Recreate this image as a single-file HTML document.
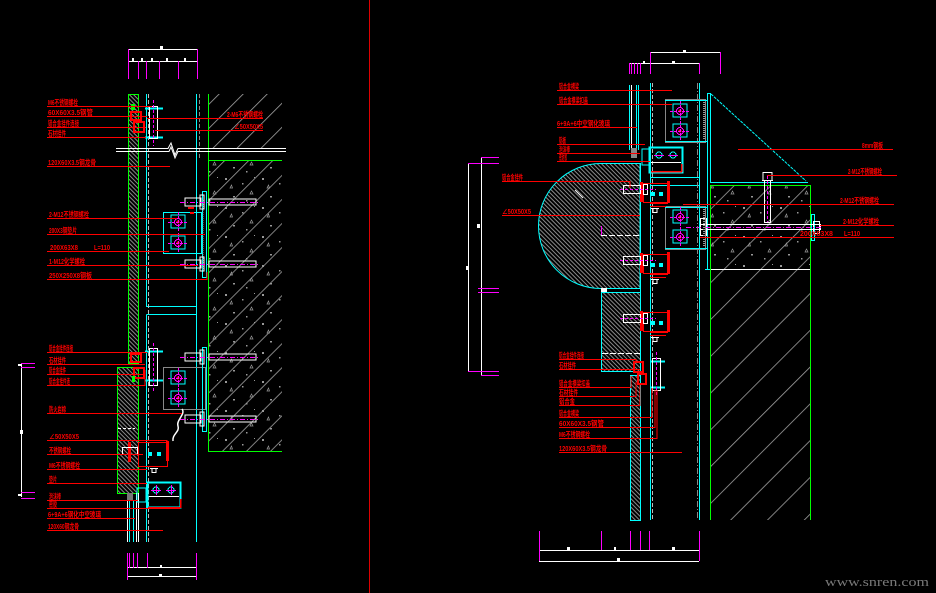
<!DOCTYPE html>
<html><head><meta charset="utf-8"><style>
html,body{margin:0;padding:0;background:#000;}
svg{display:block;}
text{font-family:"Liberation Sans","Noto Sans CJK SC",sans-serif;font-size:7.5px;font-weight:bold;fill:#f00;}
</style></head><body>
<svg width="936" height="593" viewBox="0 0 936 593" xmlns="http://www.w3.org/2000/svg">
<defs>
<pattern id="dh" width="3" height="3" patternUnits="userSpaceOnUse" patternTransform="rotate(-45)"><rect x="0" y="0" width="1" height="3" fill="#8a8a8a"/></pattern>
<pattern id="wh" width="26" height="26" patternUnits="userSpaceOnUse" patternTransform="rotate(45)"><rect width="0.8" height="26" fill="#a0a0a0"/></pattern>
<pattern id="wh2" width="17" height="17" patternUnits="userSpaceOnUse" patternTransform="rotate(45)"><rect width="0.8" height="17" fill="#a0a0a0"/></pattern>
<pattern id="dots" width="37" height="29" patternUnits="userSpaceOnUse">
<rect x="3" y="4" width="2" height="2" fill="#999"/>
<rect x="20" y="9" width="1.5" height="1.5" fill="#999"/>
<path d="M28 20h3l-1.5-3z" fill="none" stroke="#999" stroke-width="0.7"/>
<rect x="11" y="22" width="2" height="1.5" fill="#999"/>
<rect x="32" y="3" width="1" height="1" fill="#999"/>
<path d="M8 14h2.5l-1-3z" fill="none" stroke="#999" stroke-width="0.7"/>
<rect x="24" y="26" width="1.5" height="1.5" fill="#999"/>
</pattern>
<g id="rb">
<rect x="640" y="182" width="3" height="20" fill="#f00"/>
<rect x="643.5" y="183.5" width="24" height="19" fill="none" stroke="#f00"/>
<rect x="667" y="181" width="3" height="22" fill="#f00"/>
<path d="M650 203.5H668 M650 206.5H666" stroke="#f00"/>
<rect x="651" y="192" width="4" height="4" fill="#0ff"/><rect x="659" y="192" width="4" height="4" fill="#0ff"/>
<rect x="623.5" y="185.5" width="17" height="8" fill="none" stroke="#fff"/>
<rect x="643.5" y="184.5" width="4" height="10" fill="none" stroke="#fff"/>
<line x1="620" y1="189.5" x2="656" y2="189.5" stroke="#f0f" stroke-dasharray="3 2"/>
<path d="M651 208.5h8 M653 208.5v4h4v-4" stroke="#fff" fill="none"/>
</g>
<g id="sq">
<rect x="-7" y="-7" width="14" height="13" fill="none" stroke="#0ff"/>
<circle cx="0" cy="0" r="3.5" fill="none" stroke="#f0f"/>
<circle cx="0" cy="0" r="1.5" fill="#f00"/>
<path d="M-10 0.5H10 M0.5 -10V10" stroke="#f0f" stroke-dasharray="3 1"/>
</g>
<g id="bolt">
<rect x="-20" y="-4" width="16" height="8" fill="none" stroke="#fff"/>
<rect x="-5" y="-7" width="4" height="14" fill="none" stroke="#fff"/>
<rect x="4" y="-3" width="47" height="6" fill="none" stroke="#fff"/>
<line x1="-25" y1="0.5" x2="55" y2="0.5" stroke="#f0f" stroke-dasharray="5 2 1 2"/>
</g>
</defs>

<rect width="936" height="593" fill="#000"/>

<!-- separator -->
<line x1="369.5" y1="0" x2="369.5" y2="593" stroke="#d00"/>

<!-- ================= LEFT DRAWING ================= -->
<g shape-rendering="crispEdges">
<!-- top dimension -->
<path d="M128 49.5H197 M128 61.5H197" stroke="#fff"/>
<path d="M128.5 49V79 M197.5 49V79 M138.5 61V79 M146.5 61V79 M159.5 61V79 M178.5 61V79" stroke="#f0f"/>
<rect x="160" y="46" width="3" height="3" fill="#fff"/>
<rect x="132" y="58" width="2" height="3" fill="#fff"/><rect x="141" y="58" width="2" height="3" fill="#fff"/><rect x="151" y="58" width="2" height="3" fill="#fff"/><rect x="166" y="58" width="2" height="3" fill="#fff"/><rect x="184" y="58" width="2" height="3" fill="#fff"/>

<!-- earth hatch top -->
<rect x="209" y="94" width="73" height="54" fill="url(#wh2)"/>
<!-- concrete -->
<rect x="209" y="160" width="73" height="291" fill="url(#wh2)"/>
<rect x="209" y="160" width="73" height="291" fill="url(#dots)"/>
<path d="M208 160.5H282 M208 451.5H282" stroke="#0f0"/>
<line x1="208.5" y1="94" x2="208.5" y2="452" stroke="#0f0"/>

<!-- stone panels -->
<rect x="128.5" y="94.5" width="10" height="269" fill="url(#dh)" stroke="#0f0"/>
<rect x="117.5" y="367.5" width="21" height="126" fill="url(#dh)" stroke="#0f0"/>
<path d="M118 428.5H135" stroke="#fff" stroke-dasharray="3 2"/>

<!-- glass lines below -->
<path d="M127.5 493V542 M136.5 493V542 M138.5 493V542" stroke="#fff"/>
<path d="M129.5 493V542 M133.5 500V542" stroke="#0ff"/>
<rect x="127" y="493" width="6" height="8" fill="#777"/>

<!-- mullion -->
<path d="M146.5 94V306.5H196.5 M146.5 314.5H196.5 M146.5 314.5V542" stroke="#0ff" fill="none"/>
<line x1="196.5" y1="94" x2="196.5" y2="542" stroke="#0ff"/>
<line x1="148.5" y1="94" x2="148.5" y2="542" stroke="#bbb" stroke-dasharray="4 2"/>
<line x1="199.5" y1="94" x2="199.5" y2="160" stroke="#888" stroke-dasharray="4 2"/>

<!-- break line -->
<path d="M116 148.5H168L171 143L175 155L178 148.5H286 M116 151.5H169L171 147L175 158L178 151.5H286" stroke="#fff" fill="none" shape-rendering="auto"/>

<!-- upper small bracket -->
<path d="M145 108.5H163 M145 137.5H163" stroke="#0ff" stroke-width="2"/>
<rect x="149.5" y="106.5" width="8" height="32" fill="none" stroke="#fff"/>
<line x1="153.5" y1="100" x2="153.5" y2="146" stroke="#f0f" stroke-dasharray="3 2"/>
<path d="M131 112h10v8h-10z M134 122h10v10h-10z" fill="none" stroke="#f00" stroke-width="2"/>
<rect x="131" y="104" width="4" height="6" fill="#0f0"/>

<!-- upper bracket -->
<rect x="163.5" y="212.5" width="38" height="41" fill="none" stroke="#0ff"/>
<use href="#sq" x="178" y="222"/>
<use href="#sq" x="178" y="243"/>
<rect x="202.5" y="191.5" width="4" height="86" fill="none" stroke="#0ff"/>
<path d="M203 200v70" stroke="#888" stroke-dasharray="1 1"/>
<use href="#bolt" x="205" y="202"/>
<use href="#bolt" x="205" y="264"/>
<path d="M188 208h6 M190 213h4" stroke="#f00" stroke-width="2"/>

<!-- lower small bracket -->
<path d="M145 351.5H163 M145 380.5H163" stroke="#0ff" stroke-width="2"/>
<rect x="149.5" y="348.5" width="8" height="37" fill="none" stroke="#fff"/>
<line x1="153.5" y1="343" x2="153.5" y2="392" stroke="#f0f" stroke-dasharray="3 2"/>
<path d="M131 354h10v8h-10z M134 368h10v10h-10z" fill="none" stroke="#f00" stroke-width="2"/>
<rect x="132" y="376" width="3" height="6" fill="#0f0"/>

<!-- lower bracket -->
<rect x="163.5" y="367.5" width="42" height="42" fill="none" stroke="#888"/>
<use href="#sq" x="178" y="378"/>
<use href="#sq" x="178" y="398"/>
<rect x="202.5" y="347.5" width="4" height="84" fill="none" stroke="#0ff"/>
<use href="#bolt" x="205" y="357"/>
<use href="#bolt" x="205" y="419"/>
<path d="M182 409 C186 414 176 420 178 426 C180 432 172 434 173 441" stroke="#fff" fill="none" stroke-width="1.5" shape-rendering="auto"/>

<!-- red box lower -->
<rect x="138.5" y="442.5" width="29" height="24" fill="none" stroke="#f00"/>
<rect x="166" y="441" width="3" height="20" fill="#f00"/>
<rect x="128" y="442" width="3" height="20" fill="#f00"/>
<rect x="148" y="452" width="4" height="4" fill="#0ff"/><rect x="157" y="452" width="4" height="4" fill="#0ff"/>
<rect x="122.5" y="447.5" width="15" height="7" fill="none" stroke="#fff"/>
<path d="M150 468.5h8 M152 468.5v4h4v-4" stroke="#fff" fill="none"/>

<!-- lower cyan bracket -->
<rect x="147.5" y="482.5" width="33" height="25" fill="none" stroke="#0ff" stroke-width="2"/>
<path d="M149 496.5H179" stroke="#fff"/>
<circle cx="156" cy="490" r="3" fill="none" stroke="#0ff"/><circle cx="171" cy="490" r="3" fill="none" stroke="#0ff"/>
<path d="M151 490.5h10 M166 490.5h10 M156.5 485v10 M171.5 485v10" stroke="#f0f"/>
<path d="M148 507.5H180 M180.5 499v9" stroke="#f00" stroke-width="1.5"/>
<path d="M137 488h9v14h-9z" fill="none" stroke="#0ff"/>

<!-- bottom dimension -->
<path d="M127 567.5H196 M127 576.5H196" stroke="#fff"/>
<path d="M127.5 553V580 M196.5 553V580 M129.5 553V568 M133.5 553V568 M137.5 553V568 M147.5 553V568" stroke="#f0f"/>
<rect x="160" y="565" width="2" height="2" fill="#fff"/><rect x="159" y="574" width="3" height="3" fill="#fff"/>

<!-- left vertical dimension -->
<line x1="21.5" y1="363" x2="21.5" y2="497" stroke="#fff"/>
<path d="M21 363.5H35 M21 367.5H35 M21 492.5H35 M21 498.5H35" stroke="#f0f"/>
<rect x="20" y="430" width="3" height="4" fill="#fff"/><rect x="18" y="364" width="3" height="2" fill="#fff"/><rect x="18" y="494" width="3" height="2" fill="#fff"/>

<!-- left leaders -->
<g stroke="#f00" fill="none">
<path d="M47 106.5H152 M47 116.5H147 M47 127.5H146 M47 137.5H146 M47 166.5H170 M47 218.5H177 M47 234.5H205 M47 251.5H169 M47 265.5H198 M47 279.5H207V272"/>
<path d="M147 118.5H263 M155 130.5H263"/>
<path d="M47 352.5H147 M47 364.5H145 M47 374.5H143 M47 385.5H145V370 M47 413.5H182 M47 440.5H167V446 M47 454.5H143 M47 469.5H147 M47 483.5H147 M47 500.5H138 M47 508.5H180 M47 518.5H135 M47 530.5H163"/>
</g>
</g>
<g>
<text x="48" y="105" textLength="30" lengthAdjust="spacingAndGlyphs">M6不锈钢螺栓</text>
<text x="48" y="115" textLength="45" lengthAdjust="spacingAndGlyphs">60X60X3.5钢管</text>
<text x="48" y="126" textLength="31" lengthAdjust="spacingAndGlyphs">铝合金挂件连接</text>
<text x="48" y="136" textLength="18" lengthAdjust="spacingAndGlyphs">石材挂件</text>
<text x="48" y="165" textLength="48" lengthAdjust="spacingAndGlyphs">120X60X3.5钢龙骨</text>
<text x="49" y="217" textLength="40" lengthAdjust="spacingAndGlyphs">2-M12不锈钢螺栓</text>
<text x="49" y="233" textLength="28" lengthAdjust="spacingAndGlyphs">200X3钢垫片</text>
<text x="50" y="250" textLength="28" lengthAdjust="spacingAndGlyphs">200X63X8</text>
<text x="94" y="250" textLength="16" lengthAdjust="spacingAndGlyphs">L=110</text>
<text x="49" y="264" textLength="36" lengthAdjust="spacingAndGlyphs">1-M12化学螺栓</text>
<text x="49" y="278" textLength="43" lengthAdjust="spacingAndGlyphs">250X250X8钢板</text>
<text x="227" y="117" textLength="36" lengthAdjust="spacingAndGlyphs">2-M6不锈钢螺栓</text>
<text x="234" y="129" textLength="29" lengthAdjust="spacingAndGlyphs">∠50X50X5</text>
<text x="49" y="351" textLength="24" lengthAdjust="spacingAndGlyphs">铝合金挂件连接</text>
<text x="49" y="363" textLength="17" lengthAdjust="spacingAndGlyphs">石材挂件</text>
<text x="49" y="373" textLength="17" lengthAdjust="spacingAndGlyphs">铝合金挂件</text>
<text x="49" y="384" textLength="21" lengthAdjust="spacingAndGlyphs">铝合金挂件连</text>
<text x="49" y="412" textLength="17" lengthAdjust="spacingAndGlyphs">防火岩棉</text>
<text x="49" y="439" textLength="30" lengthAdjust="spacingAndGlyphs">∠50X50X5</text>
<text x="49" y="453" textLength="22" lengthAdjust="spacingAndGlyphs">不锈钢螺栓</text>
<text x="49" y="468" textLength="31" lengthAdjust="spacingAndGlyphs">M6不锈钢螺栓</text>
<text x="49" y="482" textLength="8" lengthAdjust="spacingAndGlyphs">垫片</text>
<text x="49" y="499" textLength="12" lengthAdjust="spacingAndGlyphs">泡沫棒</text>
<text x="49" y="507" textLength="8" lengthAdjust="spacingAndGlyphs">密胶</text>
<text x="48" y="517" textLength="53" lengthAdjust="spacingAndGlyphs">6+9A+6钢化中空玻璃</text>
<text x="48" y="529" textLength="31" lengthAdjust="spacingAndGlyphs">120X60钢龙骨</text>
</g>

<!-- ================= RIGHT DRAWING ================= -->
<g shape-rendering="crispEdges">
<!-- top dims -->
<path d="M650 52.5H720 M629 63.5H699" stroke="#fff"/>
<path d="M650.5 52V74 M720.5 52V74 M629.5 63V74 M631.5 63V74 M634.5 63V74 M637.5 63V74 M640.5 63V74 M699.5 63V74" stroke="#f0f"/>
<rect x="683" y="50" width="3" height="3" fill="#fff"/><rect x="672" y="61" width="3" height="3" fill="#fff"/><rect x="643" y="61" width="2" height="3" fill="#fff"/>

<!-- wall -->
<rect x="711" y="185" width="99" height="335" fill="url(#wh)"/>
<rect x="711" y="185" width="99" height="84" fill="url(#dots)"/>
<path d="M710.5 185V520 M810.5 185V520 M710 185.5H811" stroke="#0f0"/>
<path d="M711 269.5H810" stroke="#fff"/>
<path d="M710 182.5H808" stroke="#0ff"/>
<line x1="711" y1="94" x2="806" y2="181" stroke="#0ff" stroke-dasharray="3 1" shape-rendering="auto"/>
<path d="M707.5 93V270 M710.5 93V183 M707 93.5H711 M705 269.5H710" stroke="#0ff"/>
<rect x="811.5" y="214.5" width="3" height="26" fill="none" stroke="#0ff"/>
<!-- anchors in slab -->
<rect x="700.5" y="224.5" width="120" height="5" fill="none" stroke="#fff"/>
<rect x="700.5" y="218.5" width="6" height="17" fill="none" stroke="#fff"/>
<rect x="813.5" y="221.5" width="6" height="12" fill="none" stroke="#fff"/>
<line x1="686" y1="227.5" x2="822" y2="227.5" stroke="#f0f" stroke-dasharray="5 2 1 2"/>
<rect x="764.5" y="180.5" width="6" height="42" fill="none" stroke="#fff"/>
<path d="M762 180.5h11 M763 172.5h9v8h-9z" stroke="#fff" fill="none"/>
<line x1="767.5" y1="176" x2="767.5" y2="222" stroke="#f0f" stroke-dasharray="3 2"/>

<!-- semicircle + stone -->
<path d="M640 163.5H601 A62.5 62.5 0 0 0 601 288.5H640Z" fill="url(#dh)" stroke="#0ff" shape-rendering="auto"/>
<path d="M601 235.5H640" stroke="#fff" stroke-dasharray="6 2"/>
<path d="M601.5 226V235" stroke="#f0f"/>
<path d="M575 190l8 8" stroke="#fff" shape-rendering="auto"/>
<rect x="601.5" y="292.5" width="39" height="79" fill="url(#dh)" stroke="#0ff"/>
<path d="M602 353.5H640" stroke="#fff" stroke-dasharray="6 2"/>
<rect x="630.5" y="375.5" width="10" height="145" fill="url(#dh)" stroke="#0ff"/>
<rect x="601" y="288" width="6" height="4" fill="#fff"/>

<!-- glass top -->
<path d="M629.5 85V150 M636.5 85V150 M638.5 85V150" stroke="#0ff"/>
<path d="M631.5 85V150" stroke="#fff"/>
<path d="M640.5 163V375" stroke="#0ff"/>

<!-- mullion -->
<path d="M650.5 83V520 M699.5 83V520 M650 177.5H699 M650 185.5H699" stroke="#0ff"/>
<line x1="652.5" y1="83" x2="652.5" y2="520" stroke="#bbb" stroke-dasharray="4 2"/>
<line x1="697.5" y1="83" x2="697.5" y2="520" stroke="#888" stroke-dasharray="6 2 1 2"/>

<!-- brackets upper -->
<rect x="665.5" y="99.5" width="40" height="43" fill="none" stroke="#888"/>
<path d="M665 100.5H707 M665 141.5H707" stroke="#0ff"/>
<use href="#sq" x="680" y="111"/>
<use href="#sq" x="680" y="131"/>
<path d="M704 102v38" stroke="#999" stroke-dasharray="1 1" stroke-width="2"/>
<rect x="665.5" y="206.5" width="40" height="43" fill="none" stroke="#888"/>
<path d="M665 207.5H707 M665 248.5H707" stroke="#0ff"/>
<use href="#sq" x="680" y="217"/>
<use href="#sq" x="680" y="237"/>
<path d="M704 209v38" stroke="#999" stroke-dasharray="1 1" stroke-width="2"/>

<!-- cyan horizontal bracket -->
<rect x="649.5" y="147.5" width="33" height="25" fill="none" stroke="#0ff" stroke-width="2"/>
<path d="M651 162.5H681" stroke="#fff"/>
<circle cx="659" cy="155" r="3" fill="none" stroke="#0ff"/><circle cx="673" cy="155" r="3" fill="none" stroke="#0ff"/>
<path d="M654 155.5h10 M668 155.5h10" stroke="#f0f"/>
<path d="M651 171.5H682 M681.5 164v8" stroke="#f00" stroke-width="1.5"/>
<path d="M642 149h8v16h-8z" fill="none" stroke="#0ff"/>
<rect x="631" y="148" width="6" height="10" fill="#888"/>

<use href="#rb"/>
<use href="#rb" y="71"/>
<use href="#rb" y="129"/>

<!-- lower small clip -->
<path d="M650 361.5H665 M650 387.5H665" stroke="#0ff" stroke-width="2"/>
<rect x="652.5" y="358.5" width="8" height="32" fill="none" stroke="#fff"/>
<line x1="656.5" y1="352" x2="656.5" y2="396" stroke="#f0f" stroke-dasharray="3 2"/>
<path d="M634 362h9v10h-9z M638 374h8v10h-8z" fill="none" stroke="#f00" stroke-width="2"/>

<!-- right-drawing left vertical dimension -->
<path d="M468.5 163V371 M481.5 157V375" stroke="#fff"/>
<path d="M481 157.5H499 M468 163.5H499 M478 288.5H499 M478 292.5H499 M468 371.5H499 M481 375.5H499" stroke="#f0f"/>
<rect x="477" y="224" width="3" height="4" fill="#fff"/><rect x="466" y="266" width="3" height="4" fill="#fff"/>

<!-- bottom dim -->
<path d="M539 550.5H699 M539 561.5H699" stroke="#fff"/>
<path d="M539.5 531V561 M699.5 531V561 M601.5 531V550 M630.5 531V550 M640.5 531V550 M649.5 531V550" stroke="#f0f"/>
<rect x="567" y="547" width="3" height="3" fill="#fff"/><rect x="614" y="547" width="2" height="3" fill="#fff"/><rect x="672" y="547" width="3" height="3" fill="#fff"/><rect x="617" y="558" width="3" height="3" fill="#fff"/>

<!-- leaders -->
<g stroke="#f00" fill="none">
<path d="M557 90.5H672 M557 104.5H672 M557 127.5H637 M557 144.5H645 M557 153.5H640 M557 161.5H650 M502 181.5H630V188 M502 215.5H640"/>
<path d="M559 359.5H636V362 M559 369.5H640 M559 387.5H631V376 M559 396.5H636V382 M559 405.5H640V384 M559 417.5H652V388 M559 427.5H655V390 M559 438.5H657V390 M559 452.5H682"/>
<path d="M738 149.5H893 M767 175.5H897 M683 204.5H894 M820 225.5H894 M700 237.5H894"/>
</g>
</g>
<g>
<text x="559" y="89" textLength="20" lengthAdjust="spacingAndGlyphs">铝合金横梁</text>
<text x="559" y="103" textLength="29" lengthAdjust="spacingAndGlyphs">铝合金横梁扣盖</text>
<text x="557" y="126" textLength="53" lengthAdjust="spacingAndGlyphs">6+9A+6中空钢化玻璃</text>
<text x="559" y="143" textLength="7" lengthAdjust="spacingAndGlyphs">铝板</text>
<text x="559" y="152" textLength="11" lengthAdjust="spacingAndGlyphs">泡沫棒</text>
<text x="559" y="160" textLength="8" lengthAdjust="spacingAndGlyphs">密封胶</text>
<text x="502" y="180" textLength="21" lengthAdjust="spacingAndGlyphs">铝合金挂件</text>
<text x="502" y="214" textLength="29" lengthAdjust="spacingAndGlyphs">∠50X50X5</text>
<text x="559" y="358" textLength="25" lengthAdjust="spacingAndGlyphs">铝合金挂件连接</text>
<text x="559" y="368" textLength="17" lengthAdjust="spacingAndGlyphs">石材挂件</text>
<text x="559" y="386" textLength="31" lengthAdjust="spacingAndGlyphs">铝合金横梁扣盖</text>
<text x="559" y="395" textLength="19" lengthAdjust="spacingAndGlyphs">石材挂件</text>
<text x="559" y="404" textLength="16" lengthAdjust="spacingAndGlyphs">铝合金</text>
<text x="559" y="416" textLength="20" lengthAdjust="spacingAndGlyphs">铝合金横梁</text>
<text x="559" y="426" textLength="45" lengthAdjust="spacingAndGlyphs">60X60X3.5钢管</text>
<text x="559" y="437" textLength="31" lengthAdjust="spacingAndGlyphs">M6不锈钢螺栓</text>
<text x="559" y="451" textLength="48" lengthAdjust="spacingAndGlyphs">120X60X3.5钢龙骨</text>
<text x="862" y="148" textLength="21" lengthAdjust="spacingAndGlyphs">8mm钢板</text>
<text x="848" y="174" textLength="34" lengthAdjust="spacingAndGlyphs">2-M12不锈钢螺栓</text>
<text x="840" y="203" textLength="39" lengthAdjust="spacingAndGlyphs">2-M12不锈钢螺栓</text>
<text x="843" y="224" textLength="36" lengthAdjust="spacingAndGlyphs">2-M12化学螺栓</text>
<text x="800" y="236" textLength="33" lengthAdjust="spacingAndGlyphs">200X63X8</text>
<text x="844" y="236" textLength="16" lengthAdjust="spacingAndGlyphs">L=110</text>
</g>

<!-- watermark -->
<text x="825" y="586" style="font-family:'Liberation Serif',serif;font-size:13px;font-weight:normal;fill:#7a7a7a;" textLength="104" lengthAdjust="spacingAndGlyphs">www.snren.com</text>
</svg>
</body></html>
